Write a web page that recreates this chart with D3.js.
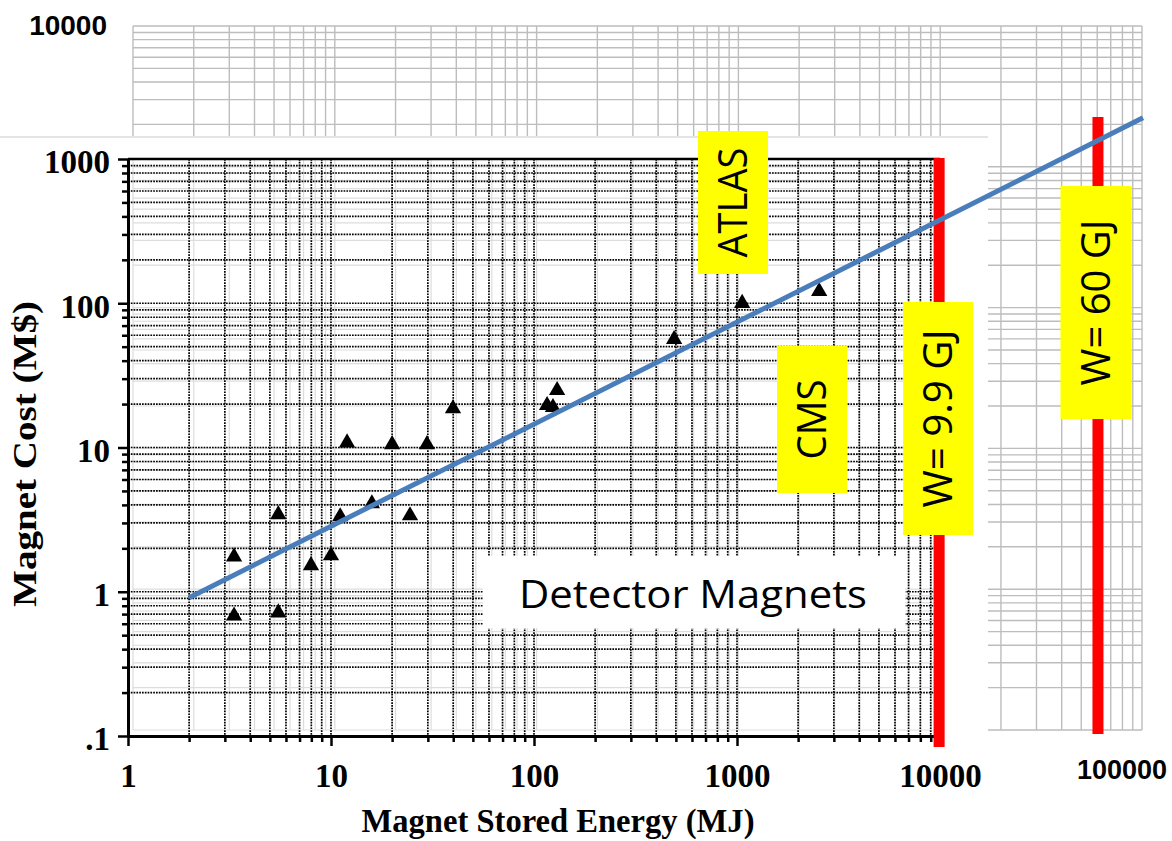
<!DOCTYPE html>
<html>
<head>
<meta charset="utf-8">
<script src="https://cdn.jsdelivr.net/npm/d3@7"></script>
<style>
  html, body { margin: 0; padding: 0; background: #fff; }
  svg { display: block; }
</style>
</head>
<body>
<svg id="chart" width="1172" height="841"></svg>
<script>
// Detector magnets: stored energy (MJ) vs magnet cost (M$)
const energyMJ = [3.33, 3.33, 5.5, 5.5, 7.97, 10, 11.1, 12.0, 15.9, 20.0, 24.5, 29.7, 39.9, 116, 124, 130, 490, 1060, 2540];
const costM    = [1.75, 0.68, 3.43, 0.715, 1.52, 1.78, 3.32, 10.8, 4.08, 10.5, 3.37, 10.5, 18.6, 19.6, 19.0, 24.9, 56.2, 100, 121];

// Power-law fit line (end points)
const fitEnergy = [2, 100000];
const fitCost   = [0.91, 1930];

// Axis ticks
const energyTicks = [1, 10, 100, 1000, 10000];
const costTicks = [0.1, 1, 10, 100, 1000];
const costTickLabels = [".1", "1", "10", "100", "1000"];
const extCostLabel = "10000";
const extEnergyLabel = "100000";

// Stored-energy limits (MJ)
const limitLabels = ["W= 9.9 GJ", "W= 60 GJ"];
const limitEnergy = [9900, 60000];

// Experiment labels
const experimentLabels = ["ATLAS", "CMS"];

const svg = d3.select("#chart");

// Main scales
const x = d3.scaleLog().domain([1, 10000]).range([128, 940]);
const y = d3.scaleLog().domain([0.1, 1000]).range([736, 159]);
// Extended background grid scales
const xb = d3.scaleLog().domain([1, 100000]).range([133, 1142]);
const yb = d3.scaleLog().domain([0.1, 10000]).range([730, 26]);

function logSteps(d0, d1) {
  const out = [];
  for (let d = d0; d < d1; d++) for (let k = 1; k <= 9; k++) out.push(+(k * Math.pow(10, d)).toPrecision(6));
  out.push(Math.pow(10, d1));
  return out;
}

const bgE = logSteps(0, 5);
const bgC = logSteps(-1, 4);

// Light gray extended grid
function drawBgGrid(g) {
  g.selectAll("line.v").data(bgE).join("line").attr("class", "v")
    .attr("x1", d => xb(d)).attr("x2", d => xb(d))
    .attr("y1", yb(10000)).attr("y2", yb(0.1));
  g.selectAll("line.h").data(bgC).join("line").attr("class", "h")
    .attr("x1", xb(1)).attr("x2", xb(100000))
    .attr("y1", d => yb(d)).attr("y2", d => yb(d));
}
const bg = svg.append("g").attr("stroke", "#bdbdbd").attr("stroke-width", 1.4);
drawBgGrid(bg);

// White panel carrying the main chart
svg.append("rect").attr("x", 0).attr("y", 137).attr("width", 988).attr("height", 704).attr("fill", "#fff");
svg.append("line").attr("x1", 0).attr("x2", 988).attr("y1", 137).attr("y2", 137)
  .attr("stroke", "#e4e4e4").attr("stroke-width", 2);

// Plot clip
svg.append("clipPath").attr("id", "plotClip").append("rect")
  .attr("x", x(1)).attr("y", y(1000)).attr("width", x(10000) - x(1)).attr("height", y(0.1) - y(1000));

// Faint background grid showing through the plot area
const bg2 = svg.append("g").attr("clip-path", "url(#plotClip)")
  .attr("stroke", "#bdbdbd").attr("stroke-width", 1.2).attr("opacity", 0.5);
drawBgGrid(bg2);

// Dotted main grid
const mainE = logSteps(0, 4).filter(d => d > 1);
const mainC = logSteps(-1, 3).filter(d => d > 0.1 && d < 1000);
const grid = svg.append("g").attr("clip-path", "url(#plotClip)")
  .attr("stroke", "#000").attr("stroke-width", 1.7).attr("stroke-dasharray", "1.7,1.1");
grid.selectAll("line.v").data(mainE).join("line").attr("class", "v")
  .attr("x1", d => x(d)).attr("x2", d => x(d)).attr("y1", y(1000)).attr("y2", y(0.1));
grid.selectAll("line.h").data(mainC).join("line").attr("class", "h")
  .attr("x1", x(1)).attr("x2", x(10000)).attr("y1", d => y(d)).attr("y2", d => y(d));
// Top frame
svg.append("line").attr("x1", x(1)).attr("x2", x(10000)).attr("y1", y(1000)).attr("y2", y(1000))
  .attr("stroke", "#000").attr("stroke-width", 2.5);

// Axes
const serif = "'Liberation Serif', 'Times New Roman', serif";
const minorE = logSteps(0, 4).filter(d => !energyTicks.includes(d));
const minorC = logSteps(-1, 3).filter(d => !costTicks.includes(d));

const gx = svg.append("g").attr("transform", `translate(0,${y(0.1)})`);
gx.call(d3.axisBottom(x).tickValues(minorE).tickSize(6).tickSizeOuter(0).tickFormat(""));
const gx2 = svg.append("g").attr("transform", `translate(0,${y(0.1)})`);
gx2.call(d3.axisBottom(x).tickValues(energyTicks).tickSize(10).tickSizeOuter(0).tickPadding(18).tickFormat(d3.format("d")));

const gy = svg.append("g").attr("transform", `translate(${x(1)},0)`);
gy.call(d3.axisLeft(y).tickValues(minorC).tickSize(6).tickSizeOuter(0).tickFormat(""));
const gy2 = svg.append("g").attr("transform", `translate(${x(1)},0)`);
gy2.call(d3.axisLeft(y).tickValues(costTicks).tickSize(10).tickSizeOuter(0).tickPadding(8)
  .tickFormat((d, i) => costTickLabels[i]));

[gx, gx2, gy, gy2].forEach(g => {
  g.select(".domain").attr("stroke", "#000").attr("stroke-width", 3);
  g.selectAll(".tick line").attr("stroke", "#000").attr("stroke-width", 2.5);
  g.selectAll(".tick text").attr("fill", "#000").attr("font-family", serif)
    .attr("font-weight", "bold").attr("font-size", 33);
});
gy2.selectAll(".tick text").attr("dy", "0.42em");

// Axis titles
svg.append("text").attr("x", 558).attr("y", 832).attr("text-anchor", "middle")
  .attr("font-family", serif).attr("font-weight", "bold").attr("font-size", 33)
  .attr("textLength", 393).attr("lengthAdjust", "spacingAndGlyphs")
  .text("Magnet Stored Energy (MJ)");
svg.append("text").attr("transform", "translate(36,454) rotate(-90)").attr("text-anchor", "middle")
  .attr("font-family", serif).attr("font-weight", "bold").attr("font-size", 33)
  .attr("textLength", 306).attr("lengthAdjust", "spacingAndGlyphs")
  .text("Magnet Cost (M$)");

// Extended-range labels
const sans = "'Liberation Sans', Arial, sans-serif";
svg.append("text").attr("x", 107).attr("y", 35).attr("text-anchor", "end")
  .attr("font-family", sans).attr("font-weight", "bold").attr("font-size", 28).text(extCostLabel);
svg.append("text").attr("x", 1122).attr("y", 779).attr("text-anchor", "middle")
  .attr("font-family", sans).attr("font-weight", "bold").attr("font-size", 27).text(extEnergyLabel);

// Data points
const points = energyMJ.map((e, i) => ({ e, c: costM[i] }));
svg.append("g").selectAll("path").data(points).join("path")
  .attr("d", d3.symbol(d3.symbolTriangle, 115))
  .attr("transform", d => `translate(${x(d.e)},${y(d.c)})`)
  .attr("fill", "#000");

// "Detector Magnets" caption
const callout = "'Open Sans', 'DejaVu Sans', sans-serif";
svg.append("rect").attr("x", 483).attr("y", 556).attr("width", 422).attr("height", 72).attr("fill", "#fff");
svg.append("text").attr("x", 693).attr("y", 608).attr("text-anchor", "middle")
  .attr("font-family", callout).attr("font-size", 38)
  .attr("textLength", 348).attr("lengthAdjust", "spacingAndGlyphs")
  .text("Detector Magnets");

// Energy limit lines
const limitSpans = [[y(1000) - 1, y(0.1) + 11], [117, 734]];
svg.append("g").selectAll("rect").data(limitEnergy).join("rect")
  .attr("x", d => x(d) - 5.5).attr("width", 11)
  .attr("y", (d, i) => limitSpans[i][0])
  .attr("height", (d, i) => limitSpans[i][1] - limitSpans[i][0])
  .attr("fill", "#ff0000");

// Yellow label boxes
function yellowLabel(cx, top, bottom, w, label, len) {
  const cy = (top + bottom) / 2;
  svg.append("rect").attr("x", cx - w / 2).attr("y", top).attr("width", w).attr("height", bottom - top)
    .attr("fill", "#ffff00");
  svg.append("text").attr("transform", `translate(${cx + 14},${cy}) rotate(-90)`)
    .attr("text-anchor", "middle").attr("font-family", callout).attr("font-size", 40)
    .attr("textLength", len).attr("lengthAdjust", "spacingAndGlyphs")
    .attr("fill", "#000").text(label);
}
yellowLabel(733, 131, 274, 70, experimentLabels[0], 110);
yellowLabel(812, 346, 493, 70, experimentLabels[1], 80);
yellowLabel(x(limitEnergy[0]) - 1, 302, 535, 70, limitLabels[0], 178);
yellowLabel(x(limitEnergy[1]) - 2, 186, 419, 71, limitLabels[1], 166);

// Fit line
const fit = fitEnergy.map((e, i) => [e, fitCost[i]]);
svg.append("path").datum(fit)
  .attr("d", d3.line().x(d => x(d[0])).y(d => y(d[1])))
  .attr("fill", "none").attr("stroke", "#4a7ebb").attr("stroke-width", 5);
</script>
</body>
</html>
